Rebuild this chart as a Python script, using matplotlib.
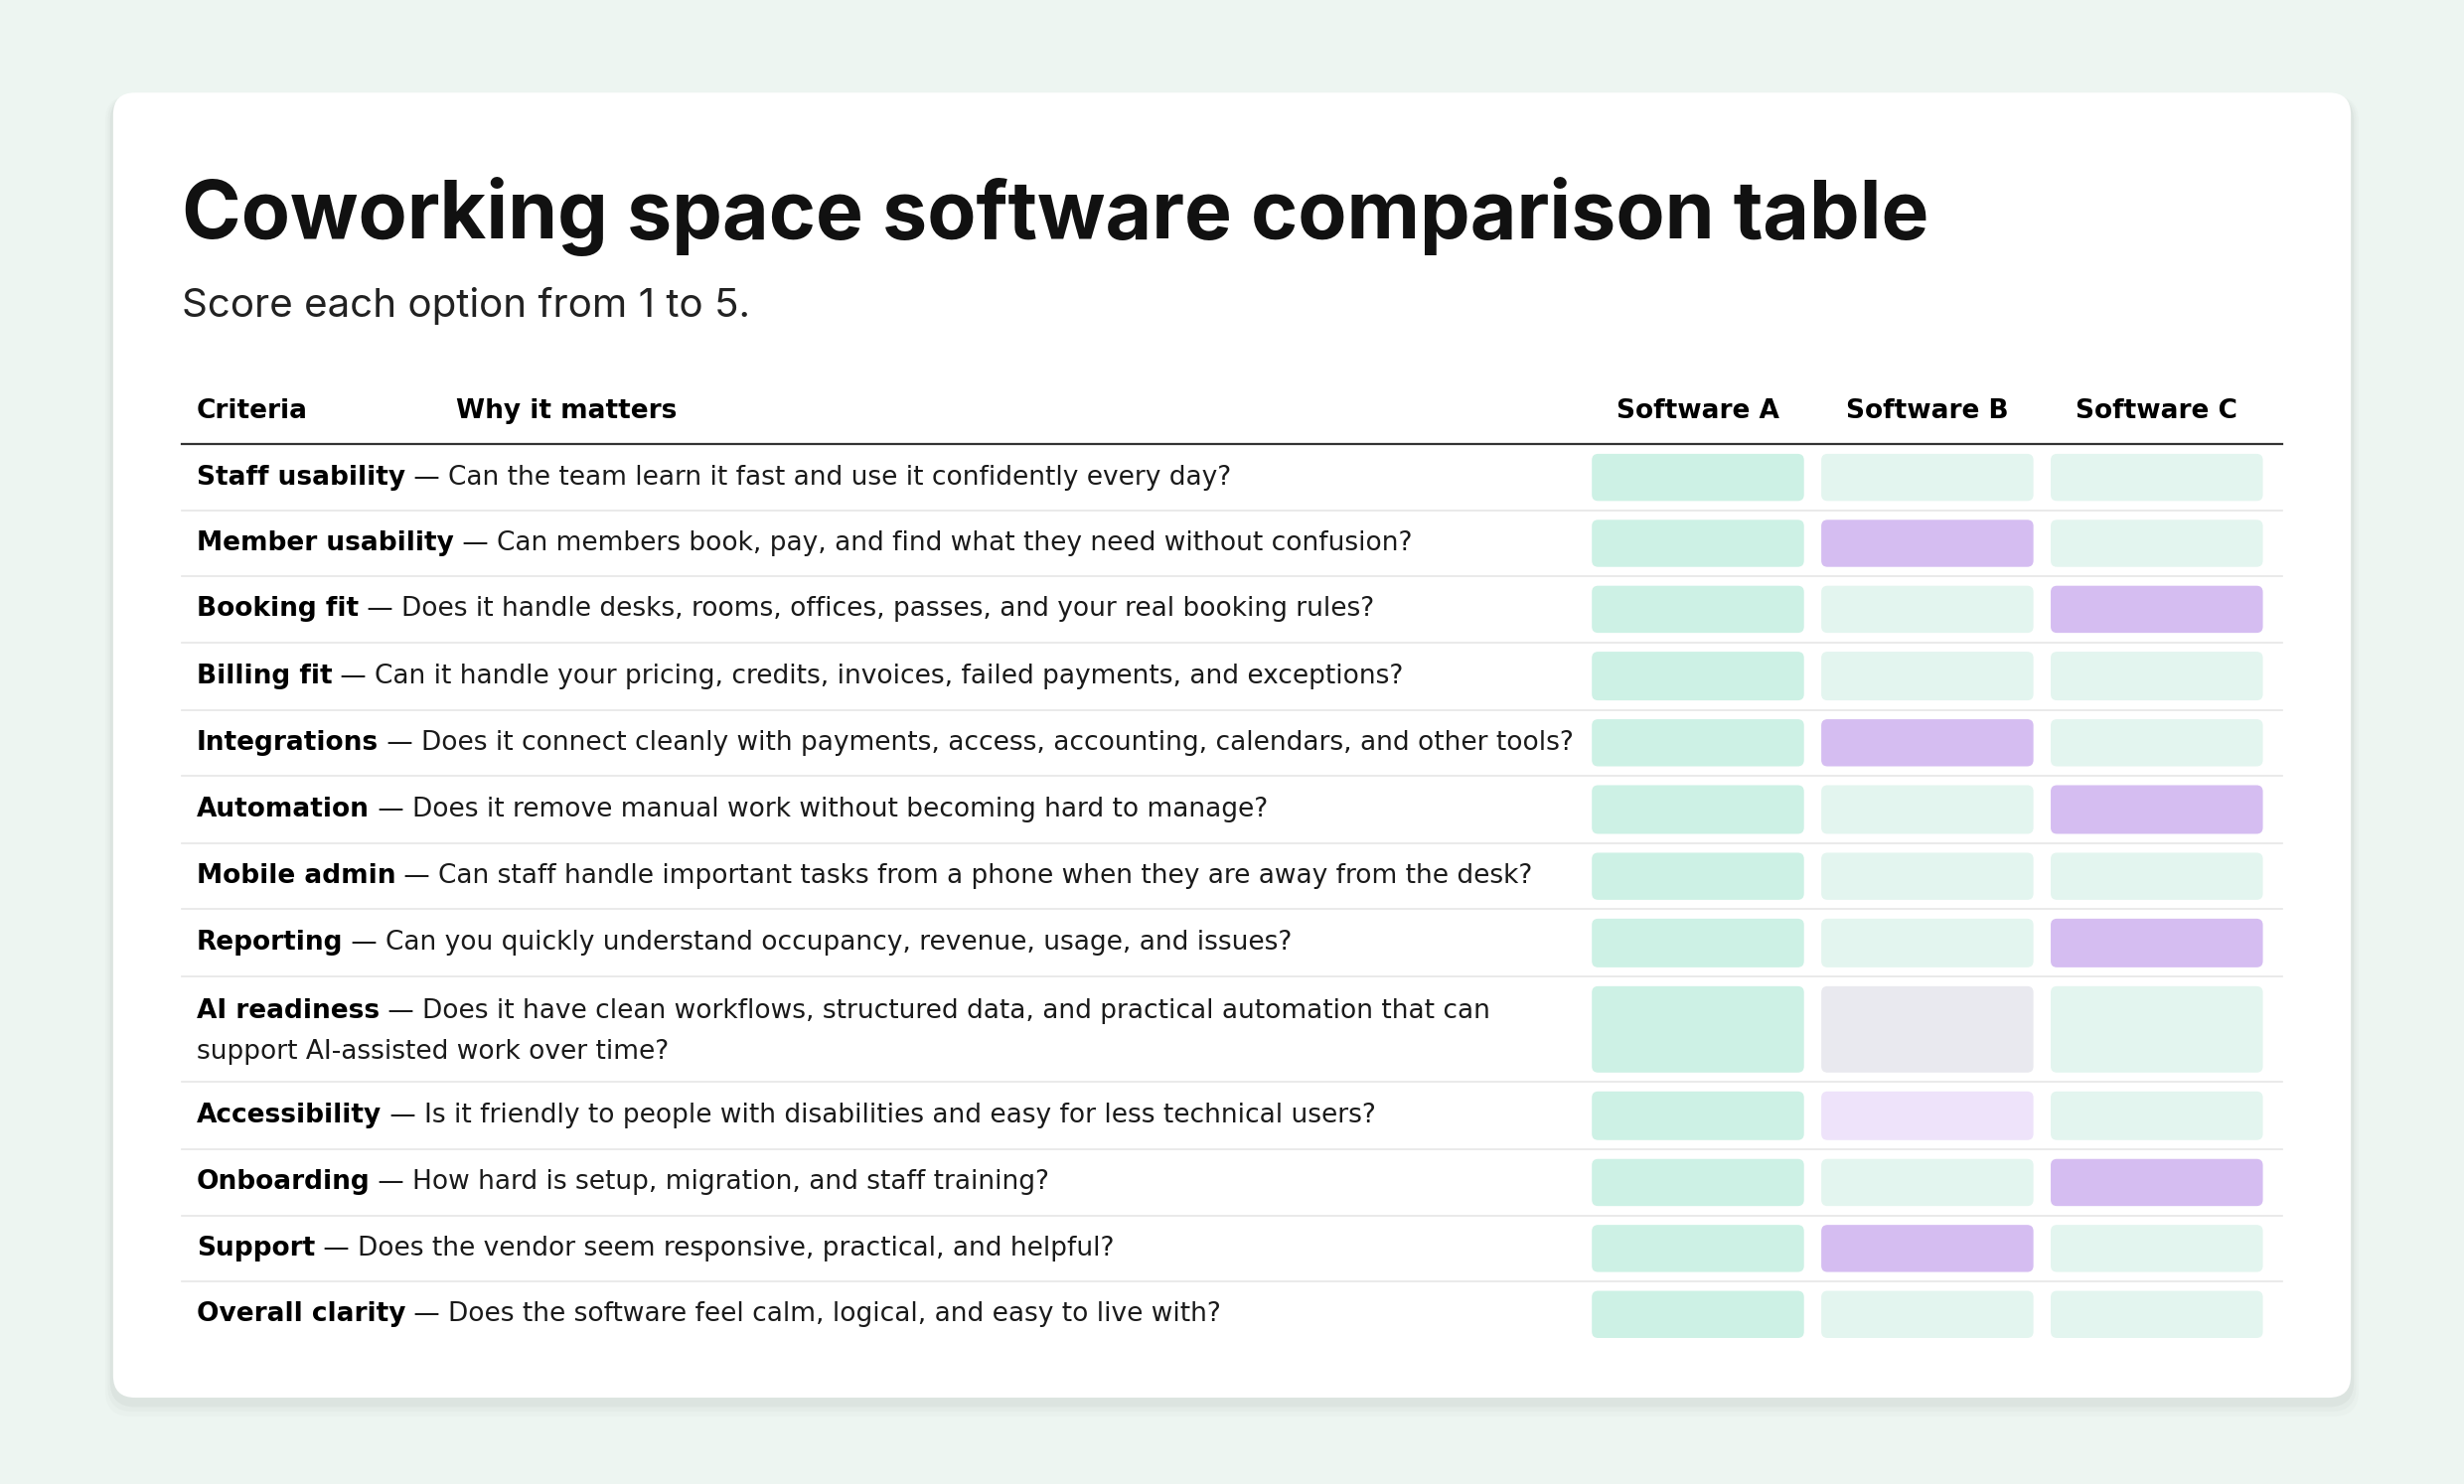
import matplotlib
matplotlib.use("Agg")
import matplotlib.pyplot as plt
from matplotlib.patches import FancyBboxPatch

# --- data ---
title = "Coworking space software comparison table"
subtitle = "Score each option from 1 to 5."
headers = ["Criteria", "Why it matters", "Software A", "Software B", "Software C"]
criteria = ["Staff usability", "Member usability", "Booking fit", "Billing fit", "Integrations",
            "Automation", "Mobile admin", "Reporting", "AI readiness", "Accessibility",
            "Onboarding", "Support", "Overall clarity"]
why = [
    "Can the team learn it fast and use it confidently every day?",
    "Can members book, pay, and find what they need without confusion?",
    "Does it handle desks, rooms, offices, passes, and your real booking rules?",
    "Can it handle your pricing, credits, invoices, failed payments, and exceptions?",
    "Does it connect cleanly with payments, access, accounting, calendars, and other tools?",
    "Does it remove manual work without becoming hard to manage?",
    "Can staff handle important tasks from a phone when they are away from the desk?",
    "Can you quickly understand occupancy, revenue, usage, and issues?",
    "Does it have clean workflows, structured data, and practical automation that can\nsupport AI-assisted work over time?",
    "Is it friendly to people with disabilities and easy for less technical users?",
    "How hard is setup, migration, and staff training?",
    "Does the vendor seem responsive, practical, and helpful?",
    "Does the software feel calm, logical, and easy to live with?",
]
# cell state per software column
cells = [
    ["A", "L", "L"], ["A", "P", "L"], ["A", "L", "P"], ["A", "L", "L"],
    ["A", "P", "L"], ["A", "L", "P"], ["A", "L", "L"], ["A", "L", "P"],
    ["A", "G", "L"], ["A", "Q", "L"], ["A", "L", "P"], ["A", "P", "L"],
    ["A", "L", "L"],
]
colors = {"A": "#cdf1e5", "L": "#e3f5ef", "P": "#d5bdf1", "G": "#e9e9ef", "Q": "#eee3fa"}

W, H = 1568, 945
fig = plt.figure(figsize=(24.8, 14.94), dpi=100)
fig.patch.set_facecolor("#edf5f1")
ax = fig.add_axes([0, 0, 1, 1])
ax.set_xlim(0, W)
ax.set_ylim(H, 0)
ax.axis("off")

# card with soft shadow
for i, a in enumerate([0.015, 0.02, 0.03]):
    d = 10 - 3 * i
    ax.add_patch(FancyBboxPatch((72 - d / 2, 59 + 2), 1424 + d, 831 + d,
                                boxstyle="round,pad=0,rounding_size=16",
                                fc="black", ec="none", alpha=a, zorder=0))
ax.add_patch(FancyBboxPatch((72, 59), 1424, 831, boxstyle="round,pad=0,rounding_size=14",
                            fc="white", ec="none", zorder=1))

body = ["DejaVu Sans"]
ax.text(116, 138, title, fontsize=58, fontweight="bold", family=["Inter", "DejaVu Sans"],
        va="center", ha="left", color="#111111", zorder=3)
ax.text(116, 195, subtitle, fontsize=29, family=["Inter", "DejaVu Sans"],
        va="center", ha="left", color="#222222", zorder=3)

fs = 19
ax.text(125, 262, headers[0], fontsize=fs, fontweight="bold", family=body, va="center", zorder=3)
ax.text(290, 262, headers[1], fontsize=fs, fontweight="bold", family=body, va="center", zorder=3)
col_x = [1013, 1159, 1305]
col_w = 135
for cx, h in zip(col_x, headers[2:]):
    ax.text(cx + col_w / 2, 262, h, fontsize=fs, fontweight="bold", family=body,
            va="center", ha="center", zorder=3)
ax.plot([116, 1452], [283, 283], color="#333333", lw=1.6, zorder=3)

row_top = [283, 325, 367, 409, 452, 494, 537, 579, 622, 689, 732, 774, 816, 858]
fig.canvas.draw()
renderer = fig.canvas.get_renderer()
inv = ax.transData.inverted()
for i, (c, w) in enumerate(zip(criteria, why)):
    top, bot = row_top[i], row_top[i + 1]
    two = "\n" in w
    yc = (top + bot) / 2
    ty = top + 22 if two else yc
    t = ax.text(125, ty, c, fontsize=fs, fontweight="bold", family=body, va="center", zorder=3)
    bb = t.get_window_extent(renderer)
    x1 = inv.transform((bb.x1, 0))[0]
    first, *rest = w.split("\n")
    ax.text(x1, ty, " \u2014 " + first, fontsize=fs, family=body, va="center", zorder=3, color="#1a1a1a")
    if rest:
        ax.text(125, ty + 26, rest[0], fontsize=fs, family=body, va="center", zorder=3, color="#1a1a1a")
    if i < len(criteria) - 1:
        ax.plot([116, 1452], [bot, bot], color="#e6e6e6", lw=1.2, zorder=2)
    for j, cx in enumerate(col_x):
        ax.add_patch(FancyBboxPatch((cx, top + 6), col_w, bot - top - 12,
                                    boxstyle="round,pad=0,rounding_size=4",
                                    fc=colors[cells[i][j]], ec="none", zorder=2))

fig.savefig("out.png", dpi=100, facecolor=fig.get_facecolor())
